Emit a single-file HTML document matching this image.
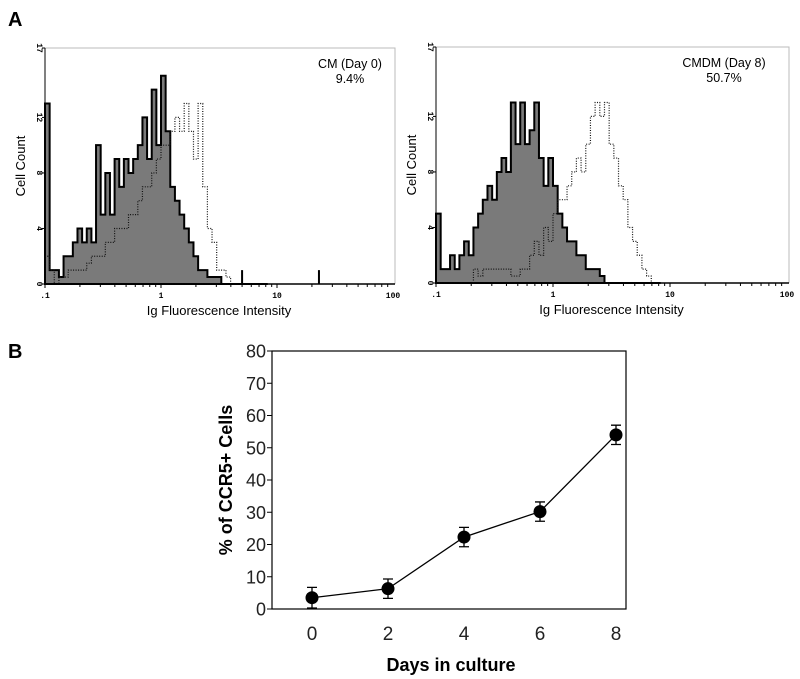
<!DOCTYPE html>
<html><head><meta charset="utf-8"><style>
body{margin:0;background:#fff;}
svg{display:block;font-family:"Liberation Sans",sans-serif;}
</style></head><body>
<svg id="fig" width="800" height="679" viewBox="0 0 800 679">
<text x="8" y="26" font-size="20" font-weight="bold">A</text>
<text x="8" y="358" font-size="20" font-weight="bold">B</text>
<g id="hA"></g>
<g id="hB"></g>
<g id="lineChart"></g>
</svg>
<script>
// Histogram data (bins at log10 = -1 + 0.04*i)
const binStartLog = -1, binStep = 0.04;
const day0Filled = [13,1,1,0.5,2,2,3,4,3,4,3,10,5,8,5,9,7,9,8,9,10,12,9,14,10,15,11,7,6,5,4,3,2,1,1,0.5,0.5,0.5,0,0,0,0,0,0,0,0,0,0];
const day0Dotted = [2,1,0,0.5,0.5,1,1,1,1,1.5,2,2,2,3,3,4,4,4,5,5,6,7,7,8,9,10,10,11,12,11,13,11,9,13,7,4,3,1,1,0.5,0,0,0,0,0,0,0,0];
const day0Spikes = [[5,1],[23,1]];
const day8Filled = [5,1,1,2,1,2,3,2,4,5,6,7,6,8,9,8,13,10,13,10,11,13,9,7,9,7,5,4,3,3,2,2,1,1,1,0.5,0,0,0,0,0,0,0,0,0,0,0,0];
const day8Dotted = [0,0,0,0,0,0,0,0,1,0.5,1,1,1,1,1,1,0.5,0.5,1,1,2,3,2,4,3,5,6,6,7,8,9,8,10,12,13,12,13,10,9,7,6,4,3,2,1,0.5,0,0];
const yTicksA = [0,4,8,12,17];
const xTicksA = [0.1,1,10,100];
const xTickLabelsA = [".1","1","10","100"];
// Line chart data
const days = [0,2,4,6,8];
const ccr5 = [3.5,6.3,22.3,30.2,54];
const ccr5Err = [3.2,3.0,3.0,3.0,3.0];
const yTicksB = [0,10,20,30,40,50,60,70,80];

const NS="http://www.w3.org/2000/svg";
function mk(tag,attrs,parent){const e=document.createElementNS(NS,tag);for(const k in attrs)e.setAttribute(k,attrs[k]);parent.appendChild(e);return e;}

function hist(g,cfg,filled,dotted,spikes,title,pct){
  const xs=v=>cfg.x0+(Math.log10(v)+1)*cfg.dec;
  const xl=l=>cfg.x0+(l+1)*cfg.dec;
  const ys=v=>cfg.yb-(v/17)*(cfg.yb-cfg.yt);
  const x1=cfg.x0+3*cfg.dec;
  const fr=mk('path',{d:`M${cfg.x0},${cfg.yt}H${x1+2}V${cfg.yb}`,fill:'none',stroke:'#bbb','stroke-width':1},g);
  
  function stepPath(arr){let d=`M${xl(binStartLog)},${cfg.yb}`;arr.forEach((v,i)=>{const a=xl(binStartLog+i*binStep),b=xl(binStartLog+(i+1)*binStep);d+=`L${a},${ys(v)}L${b},${ys(v)}`;});d+=`L${xl(binStartLog+arr.length*binStep)},${cfg.yb}Z`;return d;}
  const f=mk('path',{d:stepPath(filled),fill:'#7a7a7a',stroke:'#000','stroke-width':2,'stroke-linejoin':'miter'},g);
  
  const dt=mk('path',{d:stepPath(dotted),fill:'none',stroke:'#111','stroke-width':1.2,'stroke-dasharray':'1 1.5'},g);
  
  spikes.forEach(s=>{const sp=mk('line',{x1:xs(s[0]),x2:xs(s[0]),y1:cfg.yb,y2:ys(s[1]),stroke:'#000','stroke-width':2},g);});
  const ax=mk('line',{x1:cfg.x0,x2:x1+2,y1:cfg.yb,y2:cfg.yb,stroke:'#000','stroke-width':1.5},g);
  
  const ay=mk('line',{x1:cfg.x0,x2:cfg.x0,y1:cfg.yt,y2:cfg.yb,stroke:'#000','stroke-width':1},g);
  
  for(let d=-1;d<2;d++)for(let k=1;k<10;k++){const x=xs(k*Math.pow(10,d));mk('line',{x1:x,x2:x,y1:cfg.yb,y2:cfg.yb+(k==1?4:3),stroke:'#000','stroke-width':1},g);}
  xTicksA.forEach((v,i)=>{const t=mk('text',{x:xs(v),y:cfg.yb+14,'font-size':8,'font-weight':'bold','font-family':'Liberation Mono,monospace','text-anchor':'middle'},g);t.textContent=xTickLabelsA[i];});
  yTicksA.forEach(v=>{const y=ys(v);mk('line',{x1:cfg.x0-3,x2:cfg.x0,y1:y,y2:y,stroke:'#000'},g);const t=mk('text',{x:cfg.x0-8,y:y,'font-size':8,'font-weight':'bold','font-family':'Liberation Mono,monospace','text-anchor':'middle',transform:`rotate(90 ${cfg.x0-8} ${y})`},g);t.textContent=v;});
  const xt=mk('text',{x:cfg.x0+1.5*cfg.dec,y:cfg.yb+31,'font-size':13,'text-anchor':'middle'},g);xt.textContent='Ig Fluorescence Intensity';
  const yt=mk('text',{x:0,y:0,'font-size':13,'text-anchor':'middle',transform:`translate(${cfg.x0-20},${(cfg.yt+cfg.yb)/2}) rotate(-90)`},g);yt.textContent='Cell Count';
  const l1=mk('text',{x:cfg.lx,y:cfg.yt+20,'font-size':12.5,'text-anchor':'middle'},g);l1.textContent=title;
  const l2=mk('text',{x:cfg.lx,y:cfg.yt+35,'font-size':12.5,'text-anchor':'middle'},g);l2.textContent=pct;
}
hist(document.getElementById('hA'),{x0:45,dec:116,yt:48,yb:284,lx:350},day0Filled,day0Dotted,day0Spikes,'CM (Day 0)','9.4%');
hist(document.getElementById('hB'),{x0:436,dec:117,yt:47,yb:283,lx:724},day8Filled,day8Dotted,[],'CMDM (Day 8)','50.7%');

// Line chart
(function(){
  const g=document.getElementById('lineChart');
  const L=272,R=626,T=351,B=609;
  const xs=d=>312+d*38;
  const ys=v=>B-v/80*(B-T);
  const box=mk('rect',{x:L,y:T,width:R-L,height:B-T,fill:'none',stroke:'#000','stroke-width':1.2},g);
  
  yTicksB.forEach(v=>{const y=ys(v);mk('line',{x1:L-5,x2:L,y1:y,y2:y,stroke:'#000'},g);const t=mk('text',{x:L-6,y:y+6.5,'font-size':18,'text-anchor':'end',fill:'#222'},g);t.textContent=v;});
  days.forEach(d=>{const t=mk('text',{x:xs(d),y:640,'font-size':19,'text-anchor':'middle',fill:'#222'},g);t.textContent=d;});
  const pts=days.map((d,i)=>xs(d)+','+ys(ccr5[i])).join(' ');
  const pl=mk('polyline',{points:pts,fill:'none',stroke:'#000','stroke-width':1.3},g);
  
  days.forEach((d,i)=>{const x=xs(d),y1=ys(ccr5[i]+ccr5Err[i]),y2=ys(Math.max(0,ccr5[i]-ccr5Err[i]));
    const e=mk('path',{d:`M${x},${y1}V${y2}M${x-5},${y1}H${x+5}M${x-5},${y2}H${x+5}`,stroke:'#000','stroke-width':1.3,fill:'none'},g);
    
    const c=mk('circle',{cx:x,cy:ys(ccr5[i]),r:6.5,fill:'#000'},g);
    });
  const xt=mk('text',{x:451,y:671,'font-size':18,'font-weight':'bold','text-anchor':'middle'},g);xt.textContent='Days in culture';
  const yt=mk('text',{x:0,y:0,'font-size':18,'font-weight':'bold','text-anchor':'middle',transform:'translate(232,480) rotate(-90)'},g);yt.textContent='% of CCR5+ Cells';
})();
</script>
</body></html>
